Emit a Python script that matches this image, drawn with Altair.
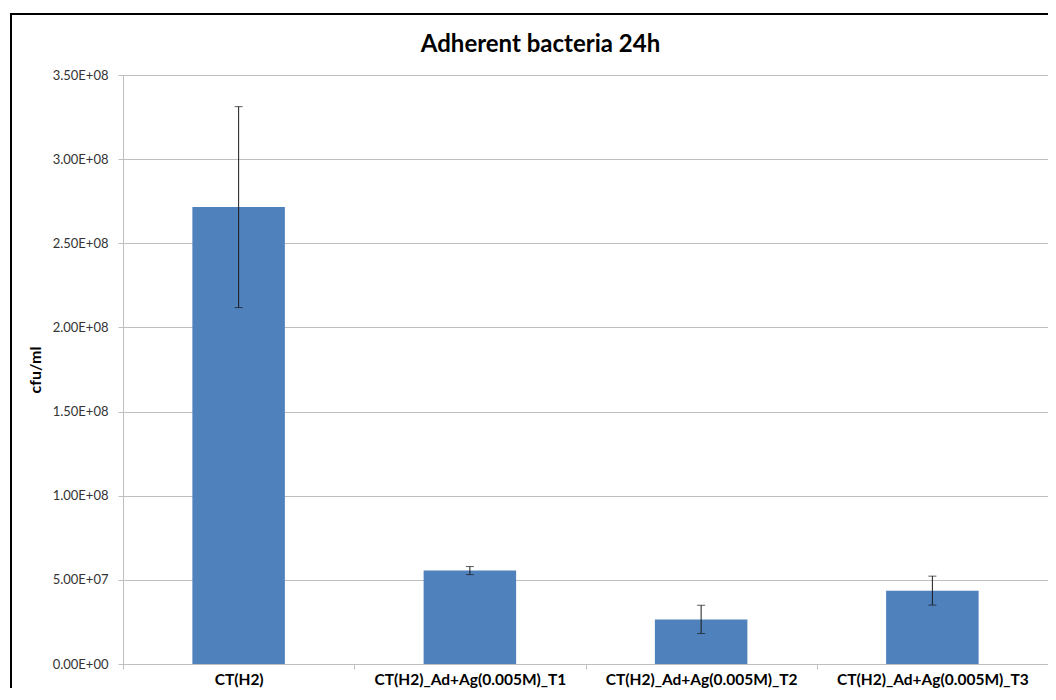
import altair as alt
import pandas as pd

categories = ["CT(H2)", "CT(H2)_Ad+Ag(0.005M)_T1", "CT(H2)_Ad+Ag(0.005M)_T2", "CT(H2)_Ad+Ag(0.005M)_T3"]
means = [2.715e8, 5.55e7, 2.65e7, 4.36e7]
errors = [5.97e7, 2.4e6, 8.4e6, 8.6e6]
y_ticks = [0, 5e7, 1e8, 1.5e8, 2e8, 2.5e8, 3e8, 3.5e8]
chart_title = "Adherent bacteria 24h"

df = pd.DataFrame({"cat": categories, "mean": means, "err": errors})
df["lo"] = df["mean"] - df["err"]
df["hi"] = df["mean"] + df["err"]

FONT = "Lato"
W, H = 925, 589

xenc = alt.X("cat:N", sort=categories, title=None,
             scale=alt.Scale(paddingInner=0, paddingOuter=0),
             axis=alt.Axis(labelFont=FONT, labelFontSize=15.5, labelFontWeight="bold",
                           labelColor="#000000", labelAngle=0, labelPadding=3,
                           tickBand="extent", tickSize=5, tickColor="#BFBFBF",
                           domainColor="#BFBFBF", grid=False, labelLimit=400))

label_expr = ("datum.value == 0 ? '0.00E+00' : "
              "format(datum.value / pow(10, floor(log(datum.value)/LN10 + 1e-9)), '.2f') + 'E+' + "
              "(floor(log(datum.value)/LN10 + 1e-9) < 10 ? '0' : '') + floor(log(datum.value)/LN10 + 1e-9)")

yscale = alt.Scale(domain=[0, 3.5e8], nice=False)

bars = alt.Chart(df).mark_bar(color="#4F81BD", width=alt.RelativeBandSize(0.4)).encode(
    x=xenc,
    y=alt.Y("mean:Q", scale=yscale, title="cfu/ml",
            axis=alt.Axis(values=y_ticks, labelExpr=label_expr, labelFont=FONT,
                          labelFontSize=13, labelColor="#333333", tickSize=5,
                          tickColor="#BFBFBF", domainColor="#BFBFBF",
                          gridColor="#BFBFBF", labelPadding=10,
                          titleFont=FONT, titleFontSize=16, titleFontWeight="bold",
                          titleColor="#000000", titlePadding=9)),
)

rules = alt.Chart(df).mark_rule(color="#1a1a1a", strokeWidth=1).encode(
    x="cat:N", y="lo:Q", y2="hi:Q")
caps_hi = alt.Chart(df).mark_tick(color="#1a1a1a", thickness=1, size=8).encode(
    x="cat:N", y="hi:Q")
caps_lo = alt.Chart(df).mark_tick(color="#1a1a1a", thickness=1, size=8).encode(
    x="cat:N", y="lo:Q")

border = alt.Chart(df.head(1)).mark_rect(fill=None, stroke="#000000", strokeWidth=2).encode(
    x=alt.value(-112), x2=alt.value(W + 200), y=alt.value(-61), y2=alt.value(H + 200))

chart = alt.layer(bars, rules, caps_hi, caps_lo, border).properties(
    width=W, height=H,
    title=alt.TitleParams(chart_title, font=FONT, fontSize=24, fontWeight="bold",
                          color="#000000", anchor="middle", frame="group", dx=-45,
                          offset=0, dy=44),
    autosize=alt.AutoSizeParams(type="none"),
    padding={"left": 115, "top": 67, "right": 0, "bottom": 24},
).configure_view(stroke=None).configure(background="white")

chart.save("out.html", embed_options={"renderer": "svg", "actions": False})
